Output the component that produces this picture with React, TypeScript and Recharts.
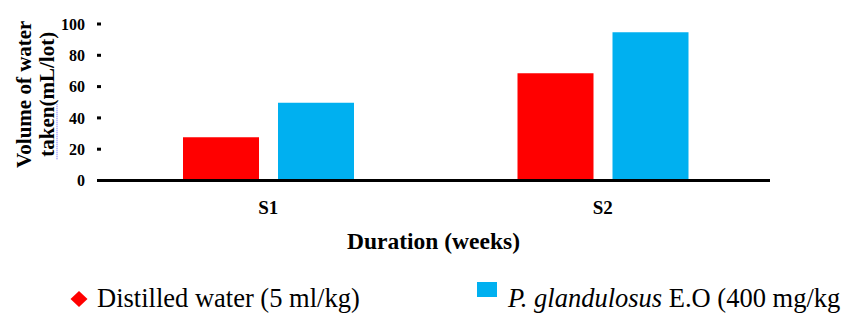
import React from 'react';
import { BarChart, Bar, XAxis, YAxis, Legend } from 'recharts';

const weeks = ['S1', 'S2'];
const distilledWater = [27.6, 68.5];
const glandulosusEO = [49.7, 94.7];
const yTicks = [0, 20, 40, 60, 80, 100];
const edgeTicks = [0, 1, 2];

const data = weeks.map((week, i) => ({
  week,
  water: distilledWater[i],
  eo: glandulosusEO[i],
}));

const serif = "'Liberation Serif', 'Times New Roman', Times, 'DejaVu Serif', serif";

const YAxisTitle = (props: any) => {
  const vb = props.viewBox || {};
  const cy = vb.y + vb.height / 2 - 8;
  return (
    <g style={{ fontFamily: serif, fontWeight: 'bold', fontSize: 21 }} fill="#000">
      <text x={31} y={cy} textAnchor="middle" transform={`rotate(-90, 31, ${cy})`}>
        Volume of water
      </text>
      <text x={54} y={cy} textAnchor="middle" transform={`rotate(-90, 54, ${cy})`}>
        taken(mL/lot)
      </text>
      <line x1={57} y1={cy + 10} x2={57} y2={cy + 66} stroke="#5b5bff" strokeWidth={1} strokeDasharray="1 1" />
    </g>
  );
};

const XAxisTitle = (props: any) => {
  const vb = props.viewBox || {};
  return (
    <text
      x={vb.x + vb.width / 2 - 2}
      y={vb.y + 64.5}
      textAnchor="middle"
      style={{ fontFamily: serif, fontWeight: 'bold', fontSize: 23.5 }}
      fill="#000"
    >
      Duration (weeks)
    </text>
  );
};

const LegendContent = () => (
  <svg width={846} height={40} style={{ display: 'block', fontFamily: serif }}>
    <polygon points="79,15 87.5,23 79,31 70.5,23" fill="#ff0000" />
    <text x={97} y={30.7} style={{ fontFamily: serif, fontSize: 26.5 }} fill="#000">
      Distilled water (5 ml/kg)
    </text>
    <rect x={477} y={6} width={20} height={15} fill="#00b0f0" />
    <text x={508} y={30.7} style={{ fontFamily: serif, fontSize: 26.5 }} fill="#000">
      <tspan fontStyle="italic">P. glandulosus</tspan> E.O (400 mg/kg
    </text>
  </svg>
);

export default function App() {
  return (
    <div style={{ position: 'absolute', left: 0, top: 0, width: 846, height: 315, background: '#fff', fontFamily: serif }}>
      <BarChart
        width={846}
        height={315}
        data={data}
        margin={{ top: 24, right: 76, left: 0, bottom: 18.5 }}
        barSize={76}
        barGap={19}
        style={{ fontFamily: serif }}
      >
        <XAxis
          xAxisId="a_edge"
          type="number"
          domain={[0, 2]}
          ticks={edgeTicks}
          tick={false}
          height={4}
          tickSize={4}
          axisLine={{ stroke: '#000', strokeWidth: 3 }}
          tickLine={{ stroke: '#000', strokeWidth: 3 }}
        />
        <XAxis
          xAxisId="b_cat"
          dataKey="week"
          height={72}
          axisLine={false}
          tickLine={false}
          tickSize={0}
          tickMargin={16}
          tick={{ fill: '#000', fontSize: 19, fontWeight: 'bold', fontFamily: serif }}
          label={<XAxisTitle />}
        />
        <YAxis
          width={101}
          domain={[0, 100]}
          ticks={yTicks}
          interval={0}
          axisLine={false}
          tickSize={4}
          tickMargin={12}
          tickLine={{ stroke: '#000', strokeWidth: 3 }}
          tick={{ fill: '#000', fontSize: 16, fontWeight: 'bold', fontFamily: serif }}
          label={<YAxisTitle />}
        />
        <Legend
          verticalAlign="bottom"
          wrapperStyle={{ left: 0, top: 276, width: 846, height: 40 }}
          content={<LegendContent />}
        />
        <Bar xAxisId="b_cat" dataKey="water" name="Distilled water (5 ml/kg)" fill="#ff0000" isAnimationActive={false} />
        <Bar xAxisId="b_cat" dataKey="eo" name="P. glandulosus E.O (400 mg/kg" fill="#00b0f0" isAnimationActive={false} />
      </BarChart>
    </div>
  );
}
